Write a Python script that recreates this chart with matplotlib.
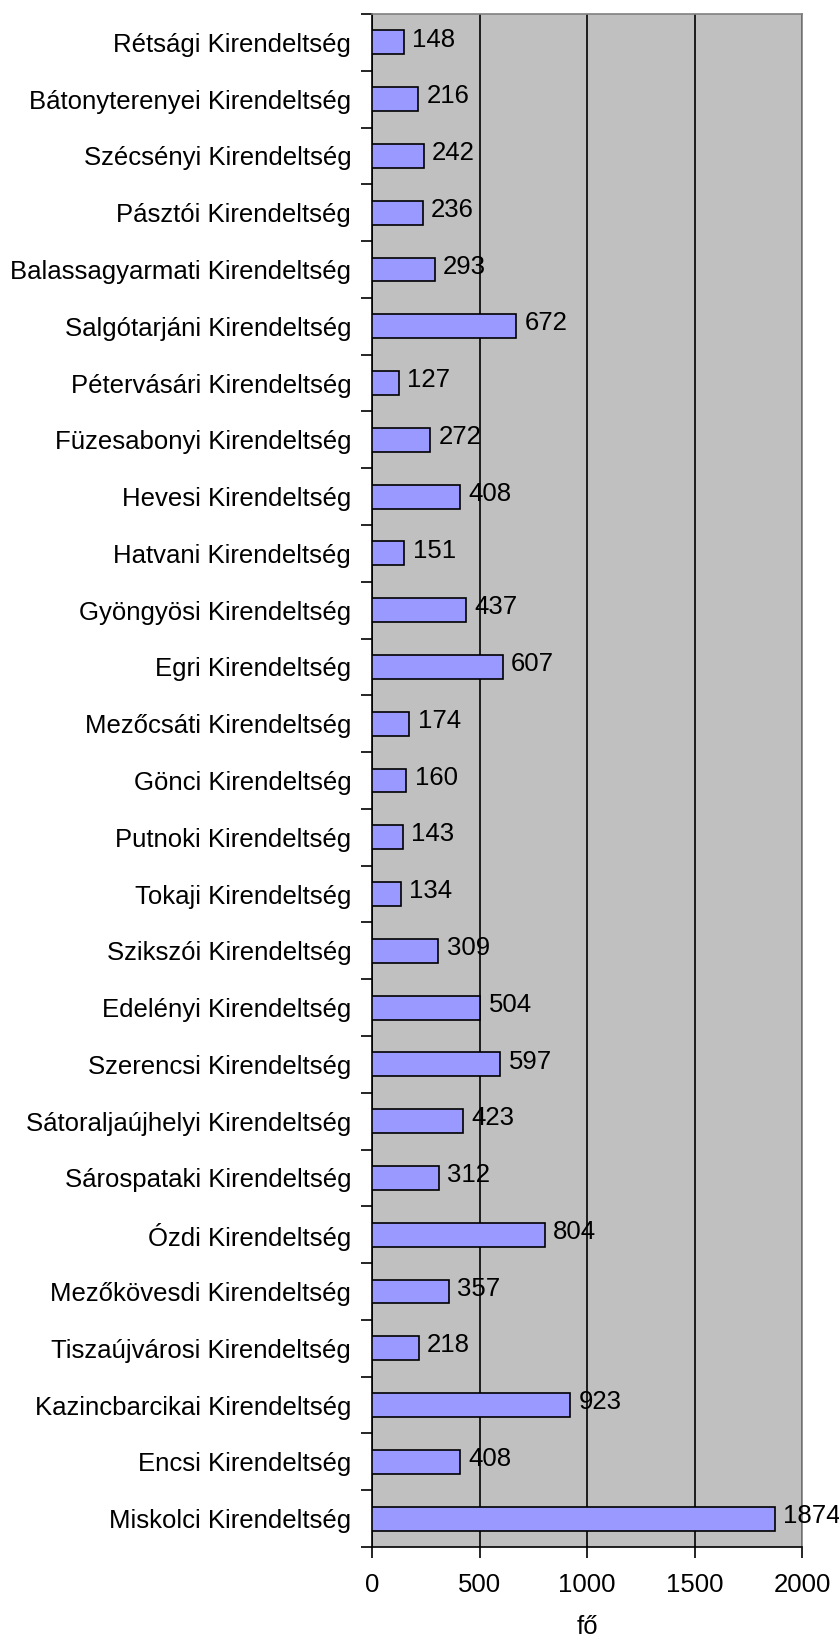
import numpy as np
import matplotlib
matplotlib.use("Agg")
import matplotlib.pyplot as plt

offices = [
    "Rétsági Kirendeltség", "Bátonyterenyei Kirendeltség", "Szécsényi Kirendeltség",
    "Pásztói Kirendeltség", "Balassagyarmati Kirendeltség", "Salgótarjáni Kirendeltség",
    "Pétervásári Kirendeltség", "Füzesabonyi Kirendeltség", "Hevesi Kirendeltség",
    "Hatvani Kirendeltség", "Gyöngyösi Kirendeltség", "Egri Kirendeltség",
    "Mezőcsáti Kirendeltség", "Gönci Kirendeltség", "Putnoki Kirendeltség",
    "Tokaji Kirendeltség", "Szikszói Kirendeltség", "Edelényi Kirendeltség",
    "Szerencsi Kirendeltség", "Sátoraljaújhelyi Kirendeltség", "Sárospataki Kirendeltség",
    "Ózdi Kirendeltség", "Mezőkövesdi Kirendeltség", "Tiszaújvárosi Kirendeltség",
    "Kazincbarcikai Kirendeltség", "Encsi Kirendeltség", "Miskolci Kirendeltség",
]
values = [148, 216, 242, 236, 293, 672, 127, 272, 408, 151, 437, 607, 174, 160,
          143, 134, 309, 504, 597, 423, 312, 804, 357, 218, 923, 408, 1874]
x_ticks = [0, 500, 1000, 1500, 2000]

plt.rcParams['font.family'] = ['Liberation Sans', 'DejaVu Sans']
fs = 18.5

fig = plt.figure(figsize=(8.39, 16.37), dpi=100)
ax = fig.add_axes([372 / 839, 1 - 1547 / 1637, (802 - 372) / 839, (1547 - 14) / 1637])

y = np.arange(len(offices))
ax.set_facecolor('#C0C0C0')
ax.barh(y, values, height=0.42, color='#9999FF', edgecolor='black', linewidth=1.2, zorder=3)
for yi, v in zip(y, values):
    ax.text(v + 38, yi - 0.05, str(v), va='center', ha='left', fontsize=fs, zorder=4)

ax.set_xlim(0, 2000)
ax.set_ylim(len(offices) - 0.5, -0.5)
ax.set_xticks(x_ticks)
ax.set_xticklabels([str(t) for t in x_ticks], fontsize=fs)
ax.set_yticks(y)
ax.set_yticklabels(offices, fontsize=fs)
ax.tick_params(axis='y', which='major', length=0, pad=15)
ax.set_yticks(np.arange(len(offices) + 1) - 0.5, minor=True)
ax.tick_params(axis='y', which='minor', length=8, width=1.2, direction='out')
ax.tick_params(axis='x', length=8, width=1.2, direction='out', pad=11)

ax.xaxis.grid(True, color='black', linewidth=1.2, zorder=1)
ax.set_axisbelow(True)
for s in ['left', 'bottom']:
    ax.spines[s].set_color('black')
    ax.spines[s].set_linewidth(1.2)
for s in ['right', 'top']:
    ax.spines[s].set_color('#808080')
    ax.spines[s].set_linewidth(1.2)

ax.set_xlabel('fő', fontsize=fs, labelpad=13)

fig.savefig('out.png', dpi=100)
